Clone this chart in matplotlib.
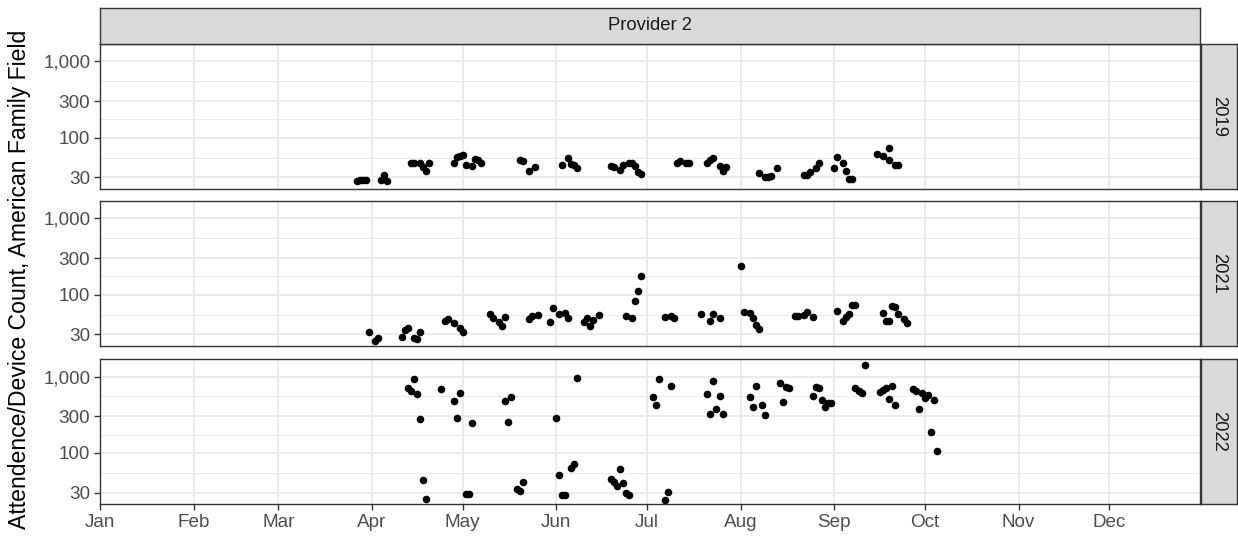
import matplotlib
matplotlib.use("Agg")
import matplotlib.pyplot as plt
import matplotlib.dates as mdates
import pandas as pd
import numpy as np

plt.rcParams['font.family'] = ['Liberation Sans', 'DejaVu Sans']

# Attendance / device counts by day, one panel per season

days_2019 = ["03-27", "03-28", "03-29", "03-30", "04-04", "04-05", "04-06", "04-14",
             "04-15", "04-17", "04-18", "04-19", "04-20", "04-28", "04-29", "04-30",
             "05-01", "05-02", "05-04", "05-05", "05-06", "05-07", "05-20", "05-21",
             "05-23", "05-25", "06-03", "06-05", "06-06", "06-07", "06-08", "06-19",
             "06-20", "06-22", "06-23", "06-25", "06-26", "06-27", "06-28", "06-29",
             "07-11", "07-12", "07-14", "07-15", "07-21", "07-22", "07-23", "07-25",
             "07-26", "07-27", "08-07", "08-09", "08-10", "08-11", "08-13", "08-22",
             "08-23", "08-24", "08-26", "08-27", "09-01", "09-02", "09-04", "09-05",
             "09-06", "09-07", "09-15", "09-17", "09-19", "09-19", "09-21", "09-22"]
counts_2019 = [27, 28, 28, 28, 28, 32, 27, 46, 47, 46, 41, 37, 46, 46, 56, 57,
               59, 44, 42, 52, 51, 46, 51, 49, 36, 41, 44, 54, 45, 44, 40, 42,
               41, 38, 44, 46, 47, 42, 35, 33, 46, 49, 46, 46, 47, 51, 54, 42,
               37, 41, 34, 30, 30, 31, 40, 32, 32, 35, 40, 46, 40, 56, 46, 37,
               29, 29, 61, 57, 74, 51, 44, 44]

days_2021 = ["03-31", "04-02", "04-03", "04-11", "04-12", "04-13", "04-15", "04-16",
             "04-17", "04-25", "04-26", "04-28", "04-30", "05-01", "05-10", "05-11",
             "05-13", "05-14", "05-15", "05-23", "05-24", "05-26", "05-30", "05-31",
             "06-02", "06-04", "06-05", "06-10", "06-11", "06-12", "06-13", "06-15",
             "06-24", "06-26", "06-27", "06-28", "06-29", "07-07", "07-09", "07-10",
             "07-19", "07-22", "07-23", "07-25", "08-01", "08-02", "08-04", "08-05",
             "08-06", "08-07", "08-19", "08-20", "08-22", "08-23", "08-25", "09-02",
             "09-04", "09-05", "09-06", "09-07", "09-08", "09-17", "09-18", "09-19",
             "09-20", "09-21", "09-22", "09-24", "09-25"]
counts_2021 = [32, 24.5, 27, 28, 34, 36, 27, 26, 32, 45, 48, 42, 36, 32, 56, 49,
               44, 39, 51, 48, 52, 54, 44, 67, 56, 58, 49, 44, 49, 39, 46, 54,
               52, 49, 83, 113, 174, 51, 52, 49, 56, 45, 56, 49, 236, 59, 58, 49,
               40, 35, 52, 52, 54, 59, 51, 61, 45, 51, 56, 74, 74, 58, 45, 45,
               71, 69, 56, 48, 42]

days_2022 = ["04-13", "04-14", "04-15", "04-16", "04-17", "04-18", "04-19", "04-24",
             "04-28", "04-29", "04-30", "05-02", "05-03", "05-04", "05-15", "05-16",
             "05-17", "05-19", "05-20", "05-21", "06-01", "06-02", "06-03", "06-04",
             "06-06", "06-07", "06-08", "06-19", "06-20", "06-21", "06-22", "06-23",
             "06-24", "06-25", "07-03", "07-04", "07-05", "07-07", "07-08", "07-09",
             "07-21", "07-22", "07-23", "07-24", "07-25", "07-26", "08-04", "08-05",
             "08-06", "08-08", "08-09", "08-14", "08-15", "08-16", "08-17", "08-25",
             "08-26", "08-27", "08-28", "08-29", "08-30", "08-31", "09-08", "09-09",
             "09-10", "09-11", "09-16", "09-17", "09-18", "09-20", "09-19", "09-21",
             "09-27", "09-28", "09-30", "09-29", "10-01", "10-02", "10-03", "10-04",
             "10-05"]
counts_2022 = [714, 651, 940, 594, 275, 44, 25, 692, 479, 284, 612, 29, 29, 244, 479, 251,
               541, 34, 32, 41, 284, 51, 28, 28, 63, 71, 970, 46, 42, 37, 61, 40,
               30, 28, 541, 423, 940, 24.5, 31, 759, 594, 321, 884, 374, 558, 321, 541, 398,
               759, 423, 312, 832, 464, 736, 714, 558, 736, 714, 494, 398, 450, 450, 714, 651,
               612, 1401, 631, 670, 714, 759, 509, 423, 692, 651, 612, 374, 525, 575, 185, 494,
               106]

years = ["2019", "2021", "2022"]
series = {"2019": (days_2019, counts_2019),
          "2021": (days_2021, counts_2021),
          "2022": (days_2022, counts_2022)}

y_breaks = [30, 100, 300, 1000]
y_labels = ["30", "100", "300", "1,000"]
y_minor = [np.sqrt(30 * 100), np.sqrt(100 * 300), np.sqrt(300 * 1000)]

W, H = 1238, 538
fig = plt.figure(figsize=(W / 100, H / 100), dpi=100)

grey20 = "#333333"
left, right = 100 / W, 1200 / W
panel_tops = [44, 201, 359.3]
panel_h = 144.7

for i, yr in enumerate(years):
    top = panel_tops[i]
    ax = fig.add_axes([left, 1 - (top + panel_h) / H, right - left, panel_h / H])
    md, vals = series[yr]
    x = pd.to_datetime(["2019-" + d for d in md])
    ax.set_yscale("log")
    ax.set_ylim(21.4, 1680)
    ax.set_xlim(pd.Timestamp("2019-01-01"), pd.Timestamp("2019-12-31"))

    for yb in y_breaks:
        ax.axhline(yb, color="#EBEBEB", lw=1.4, zorder=0)
    for ym in y_minor:
        ax.axhline(ym, color="#EBEBEB", lw=0.7, zorder=0)
    for m in pd.date_range("2019-01-01", "2019-12-01", freq="MS"):
        ax.axvline(m, color="#EBEBEB", lw=1.4, zorder=0)

    ax.scatter(x, vals, s=30, color="black", linewidths=0, zorder=3)

    ax.set_yticks(y_breaks)
    ax.set_yticklabels(y_labels)
    ax.yaxis.set_minor_locator(matplotlib.ticker.NullLocator())
    ax.xaxis.set_major_locator(mdates.MonthLocator())
    ax.xaxis.set_major_formatter(mdates.DateFormatter("%b"))
    ax.tick_params(axis="both", which="major", length=4, width=1.0, color=grey20,
                   labelcolor="#4D4D4D", labelsize=13.6, pad=3)
    if i < 2:
        ax.tick_params(axis="x", bottom=False, labelbottom=False)
    for sp in ax.spines.values():
        sp.set_color(grey20)
        sp.set_linewidth(1.0)
    ax.set_facecolor("white")

    # right strip with year
    sax = fig.add_axes([1201 / W, 1 - (top + panel_h) / H, 35.7 / W, panel_h / H])
    sax.set_facecolor("#D9D9D9")
    sax.set_xticks([])
    sax.set_yticks([])
    for sp in sax.spines.values():
        sp.set_color(grey20)
        sp.set_linewidth(1.0)
    sax.text(0.5, 0.5, yr, rotation=-90, ha="center", va="center",
             fontsize=13.3, color="#1A1A1A", transform=sax.transAxes)

# top strip
tax = fig.add_axes([left, 1 - 44 / H, right - left, 36 / H])
tax.set_facecolor("#D9D9D9")
tax.set_xticks([])
tax.set_yticks([])
for sp in tax.spines.values():
    sp.set_color(grey20)
    sp.set_linewidth(1.0)
tax.text(0.5, 0.5, "Provider 2", ha="center", va="center",
         fontsize=13.3, color="#1A1A1A", transform=tax.transAxes)

fig.text(20 / W, 1 - 279 / H, "Attendence/Device Count, American Family Field",
         rotation=90, ha="center", va="center", fontsize=16.6, color="black")

fig.savefig("out.png", dpi=100)
